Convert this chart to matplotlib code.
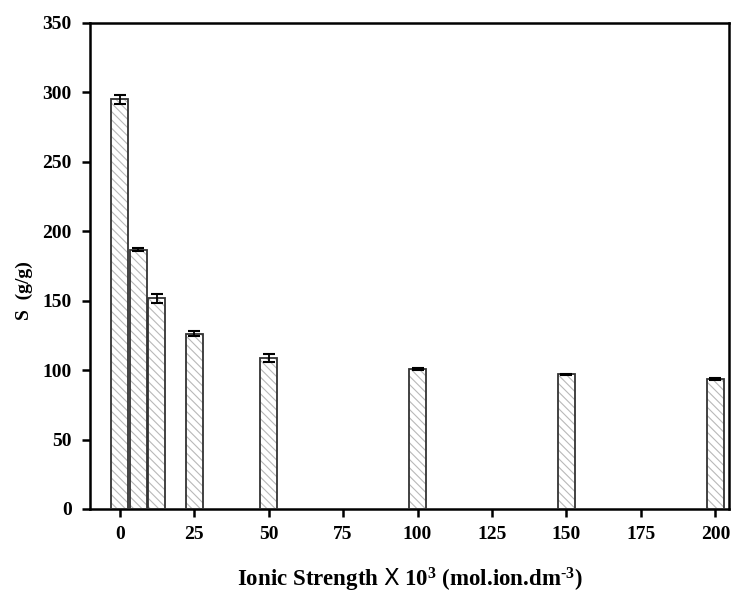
import matplotlib
matplotlib.use("Agg")
import matplotlib.pyplot as plt

ionic = [0, 6.25, 12.5, 25, 50, 100, 150, 200]
swelling = [295, 186.5, 151.5, 126, 108.5, 101, 96.8, 93.5]
errors = [3.2, 1.0, 3.0, 1.8, 3.0, 0.8, 0.6, 0.6]
xticks = [0, 25, 50, 75, 100, 125, 150, 175, 200]
yticks = [0, 50, 100, 150, 200, 250, 300, 350]

plt.rcParams['font.family'] = ['Liberation Serif', 'DejaVu Serif']
plt.rcParams['font.weight'] = 'bold'
plt.rcParams['mathtext.fontset'] = 'custom'
plt.rcParams['mathtext.rm'] = 'Liberation Serif:bold'
plt.rcParams['mathtext.it'] = 'Liberation Serif:bold'
plt.rcParams['mathtext.bf'] = 'Liberation Serif:bold'
plt.rcParams['mathtext.sf'] = 'DejaVu Sans:normal'
plt.rcParams['hatch.linewidth'] = 0.8

fig = plt.figure(figsize=(7.31, 5.96), dpi=100)
ax = fig.add_axes([0.123, 0.146, 0.874, 0.816])

width = 5.7
# hatch layer in light grey, then outline on top
ax.bar(ionic, swelling, width=width, color='white', edgecolor='#b8b8b8',
       hatch='\\\\\\\\', linewidth=0, zorder=2)
ax.bar(ionic, swelling, width=width, fill=False, edgecolor='#333333',
       linewidth=1.3, zorder=3)
ax.errorbar(ionic, swelling, yerr=errors, fmt='none', ecolor='black',
            elinewidth=1.3, capsize=4.5, capthick=1.5, zorder=4)

ax.set_xlim(-10, 204.5)
ax.set_ylim(0, 350)
ax.set_xticks(xticks)
ax.set_yticks(yticks)

for s in ax.spines.values():
    s.set_linewidth(1.8)
ax.tick_params(direction='out', length=6, width=1.8, labelsize=14,
               top=False, right=False)
ax.tick_params(axis='x', pad=6)
ax.tick_params(axis='y', pad=7)

ax.set_ylabel('S  (g/g)', fontsize=14, fontweight='bold')
ax.yaxis.set_label_coords(-0.089, 0.45)
ax.set_xlabel('Ionic Strength $\\mathsf{X}$ 10$^{3}$ (mol.ion.dm$^{\u20103}$)',
              fontsize=16.5, fontweight='bold', labelpad=17)

fig.savefig('out.png', dpi=100)
